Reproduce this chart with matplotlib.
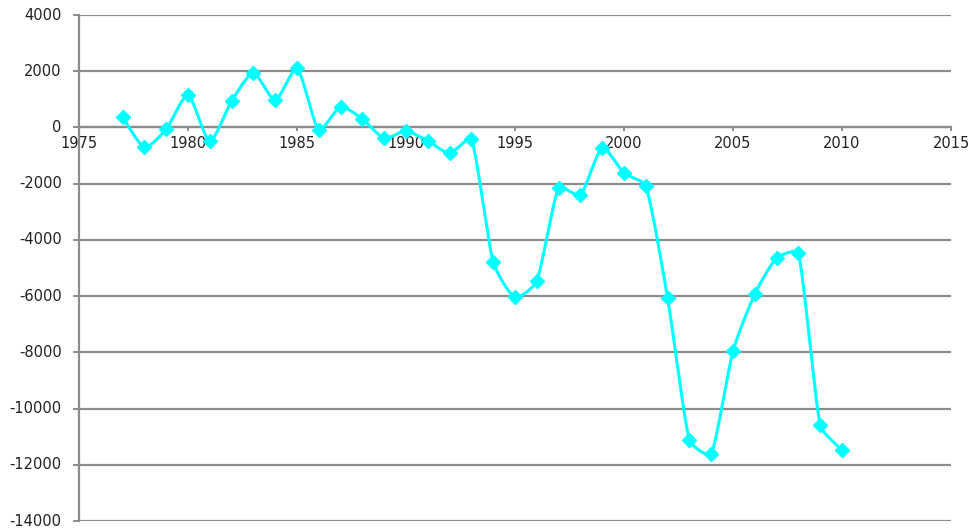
import numpy as np
import matplotlib.pyplot as plt

# balance per year
years = [1977, 1978, 1979, 1980, 1981, 1982, 1983, 1984, 1985, 1986,
         1987, 1988, 1989, 1990, 1991, 1992, 1993, 1994, 1995, 1996,
         1997, 1998, 1999, 2000, 2001, 2002, 2003, 2004, 2005, 2006,
         2007, 2008, 2009, 2010]
values = [370, -700, -60, 1150, -480, 940, 1930, 975, 2110, -90,
          725, 300, -380, -130, -480, -910, -410, -4790, -6040, -5460,
          -2150, -2400, -730, -1620, -2080, -6070, -11120, -11620, -7960, -5930,
          -4650, -4470, -10590, -11480]
xticks = [1975, 1980, 1985, 1990, 1995, 2000, 2005, 2010, 2015]
yticks = [4000, 2000, 0, -2000, -4000, -6000, -8000, -10000, -12000, -14000]


def smooth(P, n=24, f=1 / 8):
    # Bezier curve through the points (in pixel space), arms shortened next
    # to short segments, roughly like Excel's smoothed line
    P = np.asarray(P, float)
    Q = np.vstack([P[0], P, P[-1]])
    out = []
    t = np.linspace(0, 1, n)[:, None]
    for i in range(1, len(Q) - 2):
        p0, p1, p2, p3 = Q[i - 1], Q[i], Q[i + 1], Q[i + 2]
        d01 = np.hypot(*(p1 - p0))
        d12 = np.hypot(*(p2 - p1))
        d23 = np.hypot(*(p3 - p2))
        s1 = 2 * d12 / (d01 + d12) if d01 + d12 > 0 else 0
        s2 = 2 * d12 / (d12 + d23) if d12 + d23 > 0 else 0
        c1 = p1 + f * (p2 - p0) * min(s1, 1)
        c2 = p2 - f * (p3 - p1) * min(s2, 1)
        seg = (1 - t) ** 3 * p1 + 3 * (1 - t) ** 2 * t * c1 + 3 * (1 - t) * t ** 2 * c2 + t ** 3 * p2
        out.append(seg)
    return np.vstack(out)


plt.rcParams['font.family'] = 'DejaVu Sans'
plt.rcParams['axes.unicode_minus'] = False
fig = plt.figure(figsize=(9.77, 5.28), dpi=100)
ax = fig.add_axes([79 / 977, 1 - 521 / 528, (951 - 79) / 977, (521 - 15) / 528])
ax.set_xlim(1975, 2015)
ax.set_ylim(-14000, 4000)

grey = '#8c8c8c'
pix = ax.transData.transform(np.column_stack([years, values]))
curve = ax.transData.inverted().transform(smooth(pix))
ax.plot(curve[:, 0], curve[:, 1], color='#00ffff', lw=2.2, zorder=3, clip_on=False)
ax.plot(years, values, ls='none', marker='D', ms=7.5, color='#00ffff', zorder=4, clip_on=False)

ax.set_xticks(xticks)
ax.set_yticks(yticks)
ax.yaxis.grid(True, color=grey, lw=1.6)
ax.set_axisbelow(True)

for s in ['top', 'right']:
    ax.spines[s].set_visible(False)
ax.spines['bottom'].set_position(('data', 0))
ax.spines['bottom'].set_color(grey)
ax.spines['bottom'].set_linewidth(1.6)
ax.spines['left'].set_color(grey)
ax.spines['left'].set_linewidth(1.6)
ax.tick_params(axis='both', colors=grey, width=1.4, labelcolor='#222222', labelsize=10.5)
ax.tick_params(axis='y', length=4.5, pad=8)
ax.tick_params(axis='x', length=3, pad=3)
for lab in ax.get_yticklabels():
    lab.set_verticalalignment('center')

fig.savefig('out.png', dpi=100)
